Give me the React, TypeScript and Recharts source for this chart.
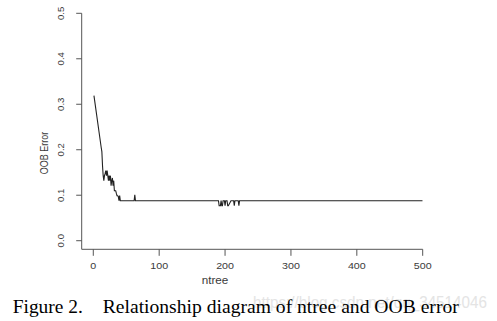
import React from "react";
import { LineChart, Line, XAxis, YAxis } from "recharts";

const ntree = [
  1, 12, 13, 14, 15, 16, 17, 18, 19, 20, 21, 22, 23, 24, 25,
  26, 27, 28, 29, 30, 31, 32, 33, 34, 35, 36, 37, 38, 39, 40, 41, 42, 62, 63,
  64, 190, 191, 193, 194, 195, 196, 197, 199, 200, 201, 203, 204, 205, 209,
  213, 214, 215, 220, 221, 222, 500,
];
const oobError = [
  0.319, 0.205, 0.196, 0.165, 0.143, 0.132,
  0.143, 0.148, 0.154, 0.143, 0.154, 0.143, 0.132, 0.143, 0.132, 0.143, 0.121,
  0.132, 0.138, 0.121, 0.132, 0.11, 0.11, 0.11, 0.104, 0.099, 0.099, 0.097,
  0.088, 0.099, 0.088, 0.088, 0.088, 0.101, 0.088, 0.088, 0.077, 0.077, 0.088,
  0.077, 0.077, 0.088, 0.088, 0.077, 0.088, 0.088, 0.077, 0.077, 0.088, 0.088,
  0.077, 0.088, 0.088, 0.077, 0.088, 0.088,
];
const xTicks = [0, 100, 200, 300, 400, 500];
const yTicks = [0, 0.1, 0.2, 0.3, 0.4, 0.5];
const xLabel = "ntree";
const yLabel = "OOB Error";
const captionLead = "Figure 2.";
const captionBody = "Relationship diagram of ntree and OOB error";
const watermark = "https://blog.csdn.net/qq_34514046";

const data = ntree.map((n, i) => ({ ntree: n, err: oobError[i] }));

const AXIS = "#555";
const TEXT = "#3a3a3a";

const XTick = (props: any) => {
  const { x, payload } = props;
  return (
    <g transform={`translate(${x},269) scale(1.15,1)`}>
      <text x={0} y={0} textAnchor="middle" fontSize={9.3} fill={TEXT} fontFamily="Liberation Sans, Arial, sans-serif">
        {payload.value}
      </text>
    </g>
  );
};

const YTick = (props: any) => {
  const { y, payload } = props;
  return (
    <g transform={`translate(60.5,${y}) rotate(-90)`}>
      <text x={0} y={0} dy="0.36em" textAnchor="middle" fontSize={9.6} fill={TEXT} fontFamily="Liberation Sans, Arial, sans-serif">
        {Number(payload.value).toFixed(1)}
      </text>
    </g>
  );
};

export default function App() {
  return (
    <div style={{ position: "absolute", left: 0, top: 0, width: 497, height: 321, background: "#fff" }}>
      <LineChart
        width={497}
        height={321}
        data={data}
        margin={{ top: 13.3, right: 74.3, left: 41.7, bottom: 41.7 }}
      >
        <XAxis
          dataKey="ntree"
          type="number"
          domain={[-17.6, 500]}
          ticks={xTicks}
          allowDataOverflow
          height={30}
          tickSize={6.5}
          stroke={AXIS}
          tickLine={{ stroke: AXIS }}
          tick={<XTick />}
          interval={0}
        />
        <YAxis
          type="number"
          domain={[-0.0189, 0.5]}
          ticks={yTicks}
          allowDataOverflow
          width={40}
          tickSize={5.5}
          stroke={AXIS}
          tickLine={{ stroke: AXIS }}
          tick={<YTick />}
          interval={0}
        />
        <Line
          type="linear"
          dataKey="err"
          stroke="#222"
          strokeWidth={1.1}
          dot={false}
          isAnimationActive={false}
        />
      </LineChart>
      <svg
        width={497}
        height={321}
        style={{ position: "absolute", left: 0, top: 0, pointerEvents: "none" }}
      >
        <g transform="translate(44.5,153) scale(1.15,1) rotate(-90)">
          <text x={0} y={0} dy="0.36em" textAnchor="middle" fontSize={9} fill={TEXT} fontFamily="Liberation Sans, Arial, sans-serif">
            {yLabel}
          </text>
        </g>
        <g transform="translate(215,284) scale(1.17,1)">
          <text x={0} y={0} textAnchor="middle" fontSize={10} fill={TEXT} fontFamily="Liberation Sans, Arial, sans-serif">
            {xLabel}
          </text>
        </g>
        <text
          x={253}
          y={308}
          fontSize={17}
          fill="#e4e4e4"
          textLength={234}
          lengthAdjust="spacingAndGlyphs"
          fontFamily="Liberation Sans, Arial, sans-serif"
        >
          {watermark}
        </text>
        <g transform="translate(12.7,313) scale(1.08,1)">
          <text x={0} y={0} fontSize={18} fill="#000" fontFamily="Liberation Serif, 'Times New Roman', serif">
            {captionLead}
          </text>
        </g>
        <g transform="translate(102.7,313) scale(1.09,1)">
          <text x={0} y={0} fontSize={18} fill="#000" fontFamily="Liberation Serif, 'Times New Roman', serif">
            {captionBody}
          </text>
        </g>
      </svg>
    </div>
  );
}
